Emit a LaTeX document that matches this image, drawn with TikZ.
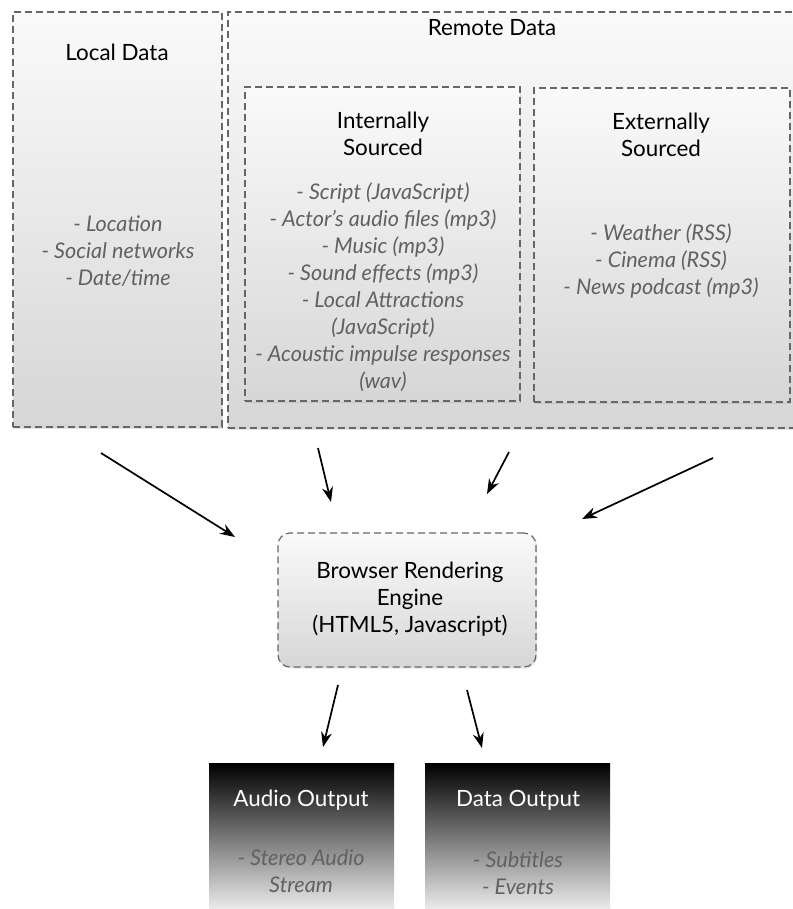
\documentclass[tikz,border=0pt]{standalone}
\usepackage{fontspec}
\setmainfont{Lato}
\usetikzlibrary{arrows.meta, positioning, shadows}

\begin{document}
\begin{tikzpicture}[x=0.5pt, y=-0.5pt, >={Stealth[length=7.5pt, width=5.5pt]}, line width=0.85pt,
    every node/.style={align=center, inner sep=0pt, font=\fontsize{11.2}{13.5}\selectfont},
    databox/.style={draw=dashline, line width=0.6pt, dash pattern=on 3.5pt off 2pt, top color=boxtop, bottom color=boxbottom,
      drop shadow={opacity=0.2, shadow xshift=0.6pt, shadow yshift=-0.8pt}},
    outbox/.style={top color=black, bottom color=white!96!black, minimum width=92.5pt, minimum height=76pt},
    title/.style={text=black},
    items/.style={text=itemtext, font=\fontsize{10.8}{13.5}\selectfont\itshape}]
  \colorlet{boxtop}{white!98!black} \colorlet{boxbottom}{white!84!black}
  \colorlet{itemtext}{black!62} \colorlet{dashline}{black!60}
  \useasboundingbox (0,0) rectangle (792,909);

  \node[databox, minimum width=104.5pt, minimum height=207.5pt] (local) at (117.5,219.5) {};
  \node[databox, minimum width=290pt, minimum height=208pt] (remote) at (518,220) {};
  \node[databox, minimum width=137.5pt, minimum height=157pt] (internal) at (382.5,244) {};
  \node[databox, minimum width=128pt, minimum height=157pt] (external) at (662,245) {};
  \node[databox, rounded corners=6pt, minimum width=129pt, minimum height=67pt] (browser) at (407,600) {};
  \node[outbox] (audio) at (301.5,839) {};
  \node[outbox] (dataout) at (517.5,839) {};

  \node[title] (local-title) at (117,52) {Local Data};
  \node[items] (local-items) at (118,251) {- Location\\- Social networks\\- Date/time};
  \node[title] (remote-title) at (492,28) {Remote Data};
  \node[title] (internal-title) at (383,134) {Internally\\Sourced};
  \node[items] (internal-items) at (383,287) {- Script (JavaScript)\\- Actor's audio files (mp3)\\- Music (mp3)\\- Sound effects (mp3)\\- Local Attractions\\(JavaScript)\\- Acoustic impulse responses\\(wav)};
  \node[title] (external-title) at (661,135) {Externally\\Sourced};
  \node[items] (external-items) at (661,261) {- Weather (RSS)\\- Cinema (RSS)\\- News podcast (mp3)};
  \node[title] (browser-text) at (410,599) {Browser Rendering\\Engine\\(HTML5, Javascript)};
  \node[text=white] (audio-title) at (301,800) {Audio Output};
  \node[items] (audio-items) at (301,871) {- Stereo Audio\\Stream};
  \node[text=white] (dataout-title) at (518,800) {Data Output};
  \node[items] (dataout-items) at (518,873) {- Subtitles\\- Events};

  \coordinate (local-out) at (101,453);   \coordinate (local-in) at (235,537);
  \coordinate (internal-out) at (318,448); \coordinate (internal-in) at (331,502);
  \coordinate (external-out) at (509,452); \coordinate (external-in) at (487,494);
  \coordinate (remote-out) at (713,458);  \coordinate (remote-in) at (582,519);
  \coordinate (audio-from) at (338,685);  \coordinate (audio-in) at (323,747);
  \coordinate (dataout-from) at (467,690); \coordinate (dataout-in) at (482,748);

  \draw[->] (local-out) -- (local-in);
  \draw[->] (internal-out) -- (internal-in);
  \draw[->] (external-out) -- (external-in);
  \draw[->] (remote-out) -- (remote-in);
  \draw[->] (audio-from) -- (audio-in);
  \draw[->] (dataout-from) -- (dataout-in);
\end{tikzpicture}
\end{document}
